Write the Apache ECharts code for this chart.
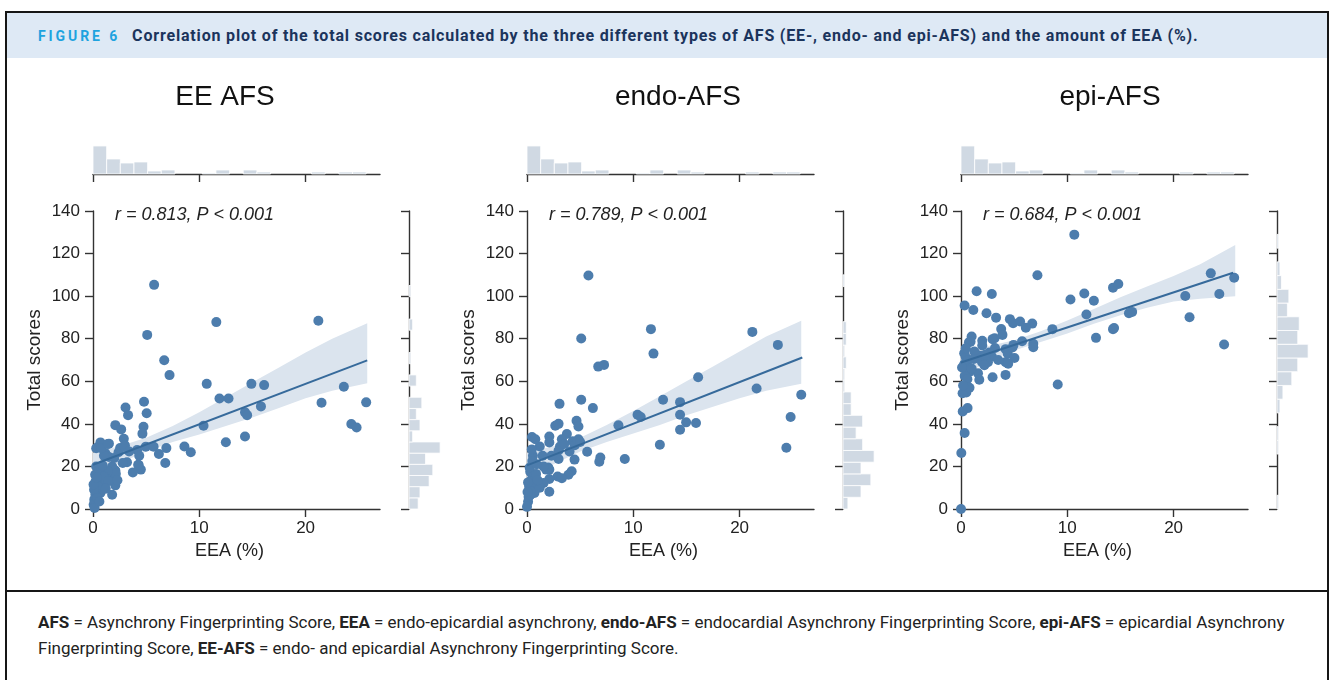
<!DOCTYPE html>
<html>
<head>
<meta charset="utf-8">
<script src="https://cdn.jsdelivr.net/npm/echarts@6/dist/echarts.min.js"></script>
<style>
  html, body { margin: 0; padding: 0; background: #fff; }
  body { width: 1332px; height: 680px; position: relative; overflow: hidden; }
  .frame { position: absolute; left: 5px; top: 11px; width: 1320px; height: 700px; border: 2px solid #161616; }
  .band { position: absolute; left: 7px; top: 13px; width: 1320px; height: 45px; background: #dee9f5; }
  .head { position: absolute; left: 38px; top: 26px; white-space: nowrap; font-family: Roboto, sans-serif; font-weight: 700; }
  .head .fig { color: #1ea3df; font-size: 14px; letter-spacing: 2.9px; margin-right: 12px; }
  .head .cap { color: #1b345c; font-size: 16px; letter-spacing: 0.82px; }
  .sep { position: absolute; left: 7px; top: 590px; width: 1320px; height: 2px; background: #161616; }
  .foot { position: absolute; left: 38px; top: 609px; font-family: Roboto, sans-serif; font-size: 17px; line-height: 26px; color: #222; white-space: nowrap; }
  .foot b { font-weight: 700; }
  #chart { position: absolute; left: 0; top: 0; width: 1332px; height: 680px; }
</style>
</head>
<body>
<div class="band"></div>
<div class="frame"></div>
<div class="head"><span class="fig">FIGURE 6</span><span class="cap">Correlation plot of the total scores calculated by the three different types of AFS (EE-, endo- and epi-AFS) and the amount of EEA (%).</span></div>
<div class="sep"></div>
<div class="foot"><b>AFS</b> = Asynchrony Fingerprinting Score, <b>EEA</b> = endo-epicardial asynchrony, <b>endo-AFS</b> = endocardial Asynchrony Fingerprinting Score, <b>epi-AFS</b> = epicardial Asynchrony<br>Fingerprinting Score, <b>EE-AFS</b> = endo- and epicardial Asynchrony Fingerprinting Score.</div>
<div id="chart"></div>
<script>
// panel titles and stats
const panelTitles = ['EE AFS', 'endo-AFS', 'epi-AFS']
const statLabels = ['r = 0.813, P < 0.001', 'r = 0.789, P < 0.001', 'r = 0.684, P < 0.001']

// scatter points [EEA %, total score]
const eePoints = [[5.75,105.3],[5.1,81.8],[11.6,87.8],[21.2,88.4],[6.7,69.9],[7.2,62.9],[10.7,58.8],[14.9,58.8],[16.1,58.2],[23.6,57.4],[11.9,51.9],[12.75,51.9],[21.5,49.9],[25.7,50.1],[4.8,50.4],[5.05,45],[3.06,47.7],[3.3,44.1],[15.8,48.2],[14.3,45.4],[14.5,44.1],[10.4,39.1],[24.3,39.9],[24.8,38.3],[14.3,34.1],[12.5,31.4],[4.75,38.6],[4.65,35.4],[2.1,39.4],[2.65,37.4],[2.9,33],[3.0,29.9],[4.97,29.3],[5.7,29.3],[6.9,28.6],[8.6,29.4],[9.2,26.7],[6.2,25.8],[6.8,21.6],[4.15,27.7],[4.35,25],[4.25,20.8],[4.5,18.5],[3.75,17.2],[3.2,22],[2.4,26.7],[1.5,30.7],[0.7,31.3],[0.47,29.1],[1.15,26.3],[1.5,24.4],[1.8,20],[2.1,18.1],[1.9,15.3],[2.15,16.6],[2.1,11.1],[1.8,6.7],[1.4,17.7],[1.25,14.1],[0.85,12.2],[0.7,7.5],[0.44,9.9],[0.22,6.7],[0.12,4.4],[0.06,2],[0.2,16.1],[0.3,20],[0.6,18.5],[0.25,13],[0.47,10.6],[0.1,9.1],[0.4,5.2],[1,15.3],[1.45,13],[2.55,28.6],[1.03,25],[2.97,29.3],[2.8,21.6],[4.3,20.7],[0.3,28.5],[0.78,28.5],[1.4,30.5],[0.15,0.5],[0.05,11.5],[0.35,14.8],[0.9,20.5],[2.0,24],[3.4,27],[0.6,3.5],[1.2,9.5],[2.3,13.5]]
const endoPoints = [[5.78,109.7],[11.66,84.5],[21.2,83.2],[23.6,77.1],[5.1,80.1],[11.9,73],[6.7,66.9],[7.25,67.7],[16.1,61.9],[21.6,56.6],[25.8,53.7],[5.1,51.3],[6.2,47.4],[3.06,49.4],[12.8,51.3],[14.4,50.2],[24.8,43.2],[14.4,44.3],[14.97,40.7],[15.9,40.4],[14.4,37.2],[10.4,44.3],[10.7,43.2],[8.6,39.3],[12.5,30.2],[24.4,28.8],[9.2,23.5],[6.9,24.2],[6.8,22.2],[5.66,26.9],[4.66,41.5],[4.84,38.8],[3.75,35.2],[4.84,32.8],[4.3,31.8],[4.47,23.2],[4.2,17.7],[3.9,16.1],[2.66,39.1],[2.97,40],[3.28,32.8],[3.1,29.4],[2.97,27.5],[2.97,23.5],[2.88,15.3],[3.28,14.5],[2.1,34.1],[2.1,31.3],[2.3,25],[2.0,19.5],[1.8,18.5],[2.1,18.5],[2.1,14.1],[2.1,8.1],[1.56,20],[1.47,25],[1.2,29.4],[0.47,33.8],[0.78,32.8],[0.56,25],[0.5,22.5],[1.03,12.2],[1.56,12.2],[0.7,7.5],[0.53,15],[0.4,13.5],[0.2,10.4],[0.15,5.7],[0.1,3.4],[0.0,1],[0.3,17.5],[0.6,11],[0.35,8.5],[0.85,16.5],[0.25,19.5],[1.2,10],[0.1,12.5],[0.45,28],[0.9,21],[4.5,30],[5.0,31.5],[3.5,30.5],[4.0,27],[1.0,13.5],[0.3,6.5],[0.05,8]]
const epiPoints = [[10.66,128.9],[7.19,109.8],[23.5,110.7],[25.7,108.6],[14.3,104],[14.8,105.7],[1.47,102.3],[2.9,101],[11.6,101.2],[10.3,98.4],[12.5,97.8],[21.1,100.1],[24.3,101],[0.34,95.6],[1.16,93.5],[2.4,92],[3.3,89.9],[11.8,91.4],[15.8,92],[16.1,92.6],[21.5,90.1],[4.6,89.2],[4.9,87.3],[5.56,88.1],[6.7,87.1],[6.1,85.2],[8.6,84.5],[3.78,84.6],[3.9,81.8],[14.3,84.5],[14.4,85],[12.7,80.4],[24.75,77.3],[1.0,81],[0.75,78.3],[0.9,78.6],[2.0,79],[2.0,76.8],[3.16,80.2],[2.97,79.8],[3.2,75.6],[2.66,73.5],[2.9,71.6],[4.2,75.1],[4.4,72.9],[4.94,77.1],[4.84,75.9],[5.75,78.8],[6.8,77.6],[6.8,76],[5.03,70.9],[4.2,69],[4.44,68.2],[2.53,69],[1.97,69.1],[1.8,72],[1.4,72.8],[1.25,74],[1.6,63.8],[1.72,60.7],[2.97,61.9],[4.19,63],[9.1,58.5],[0.3,73.2],[0.45,71.3],[0.7,70],[0.3,68],[0.55,65.8],[0.8,64.5],[0.35,62.5],[0.6,61],[0.5,54.7],[0.15,54.4],[0.8,57],[0.62,47.4],[0.16,45.8],[0.34,35.7],[0.03,26.3],[0,0],[0.1,66.5],[1.0,66],[2.3,72.5],[3.5,70],[1.2,70.5],[0.2,58],[0.45,75.5],[2.2,67.5]]

// regression line end points
const eeLine = [[0, 20.8], [25.8, 69.8]]
const endoLine = [[0, 20.5], [25.9, 71.2]]
const epiLine = [[0, 68.8], [25.6, 111]]

// confidence band
const bandX = [0, 2.5, 5, 7.5, 10, 12.5, 15, 17.5, 20, 22.5, 25.8]
const eeUpper = [26.5, 29.5, 33.5, 39, 45.5, 52.5, 59.5, 66.5, 73.5, 80, 87.3]
const eeLower = [15, 21.5, 27, 31.5, 35, 39, 43, 47.5, 52, 55.5, 59.1]
const endoUpper = [26.5, 29.5, 33.5, 39.5, 46, 53, 60, 67, 74, 81, 88.4]
const endoLower = [14.5, 21, 27, 31.5, 35.5, 39.5, 44, 48, 52, 55.5, 58.8]
const epiUpper = [75, 76.5, 79.3, 83.5, 88.5, 94, 99.5, 104.5, 109.5, 115, 124]
const epiLower = [62.5, 69, 74.5, 78.5, 82.5, 87, 91, 94.5, 97.5, 98.8, 100]

// marginal histograms
const eeaBinWidth = 1.285
const eeaCounts = [28, 15, 11, 12, 3, 4, 0, 0, 1, 4, 0, 4, 2, 0, 0, 0, 2, 0, 2, 2]
const scoreBinWidths = [5.25, 5.5, 6.45]
const eeAfsCounts = [5, 6, 11, 13, 9, 17, 2, 6, 4, 7, 0, 4, 0, 1, 0, 0, 2, 0, 0, 1]
const endoAfsCounts = [3, 11, 17, 11, 19, 12, 8, 12, 5, 5, 1, 1, 2, 1, 2, 2, 0, 0, 0, 1]
const epiAfsCounts = [1, 0, 0, 0, 1, 1, 0, 2, 4, 10, 14, 21, 14, 15, 7, 8, 3, 2, 0, 1]

const xTicks = [0, 10, 20]
const yTicks = [0, 20, 40, 60, 80, 100, 120, 140]

const panels = [
  { points: eePoints, line: eeLine, upper: eeUpper, lower: eeLower, counts: eeAfsCounts },
  { points: endoPoints, line: endoLine, upper: endoUpper, lower: endoLower, counts: endoAfsCounts },
  { points: epiPoints, line: epiLine, upper: epiUpper, lower: epiLower, counts: epiAfsCounts },
]
const offsets = [0, 434, 868]
const titleCenters = [225, 678, 1110]

const FONT = "'Liberation Sans', Arial, sans-serif"
const axisColor = '#333'
const dotColor = '#4d7dad'
const lineColor = '#366a9b'
const histColor = '#d0d9e3'

const grid = []
const xAxis = []
const yAxis = []
const series = []
const graphic = []

const axisLine = { show: true, lineStyle: { color: axisColor, width: 1.4 } }
const axisTickOut = (vals) => ({ show: true, length: 8, customValues: vals, lineStyle: { color: axisColor, width: 1.4 } })

panels.forEach((p, i) => {
  const dx = offsets[i]
  const g = i * 3
  grid.push({ left: 93 + dx, top: 211, width: 287, height: 298, outerBoundsMode: 'none' })
  grid.push({ left: 93 + dx, top: 144, width: 287, height: 30, outerBoundsMode: 'none' })
  grid.push({ left: 409 + dx, top: 211, width: 33, height: 298, outerBoundsMode: 'none' })

  // main axes
  xAxis.push({
    gridIndex: g, type: 'value', min: 0, max: 27,
    axisLine, axisTick: axisTickOut(xTicks), splitLine: { show: false },
    axisLabel: { customValues: xTicks, fontSize: 17, color: '#222', fontFamily: FONT, margin: 11 },
  })
  yAxis.push({
    gridIndex: g, type: 'value', min: 0, max: 140,
    axisLine, axisTick: axisTickOut(yTicks), splitLine: { show: false },
    axisLabel: { customValues: yTicks, fontSize: 17, color: '#222', fontFamily: FONT, margin: 13 },
  })
  // top histogram axes
  xAxis.push({
    gridIndex: g + 1, type: 'value', min: 0, max: 27,
    axisLine, axisTick: axisTickOut(xTicks), axisLabel: { show: false }, splitLine: { show: false },
  })
  yAxis.push({
    gridIndex: g + 1, type: 'value', min: 0, max: Math.max(...eeaCounts) * 1.07, show: false,
  })
  // right histogram axes
  xAxis.push({
    gridIndex: g + 2, type: 'value', min: 0, max: Math.max(...p.counts) * 1.06, show: false,
  })
  yAxis.push({
    gridIndex: g + 2, type: 'value', min: 0, max: 140, position: 'left',
    axisLine, axisTick: axisTickOut(yTicks), axisLabel: { show: false }, splitLine: { show: false },
  })

  // confidence band
  const bandData = bandX.map((x, k) => [x, p.lower[k], p.upper[k]])
  series.push({
    type: 'custom', xAxisIndex: g, yAxisIndex: g, z: 1, silent: true,
    data: bandData,
    renderItem: (params, api) => {
      if (params.dataIndex !== 0) return
      const top = bandData.map(d => api.coord([d[0], d[2]]))
      const bottom = bandData.map(d => api.coord([d[0], d[1]])).reverse()
      return { type: 'polygon', shape: { points: top.concat(bottom) }, style: { fill: '#dbe4ee' } }
    },
  })
  // scatter
  series.push({
    type: 'scatter', xAxisIndex: g, yAxisIndex: g, z: 2,
    symbolSize: 10, data: p.points,
    itemStyle: { color: dotColor, opacity: 1 },
  })
  // regression line
  series.push({
    type: 'line', xAxisIndex: g, yAxisIndex: g, z: 3,
    data: p.line, symbol: 'none', lineStyle: { color: lineColor, width: 2 },
  })
  // top histogram
  series.push({
    type: 'custom', xAxisIndex: g + 1, yAxisIndex: g + 1, silent: true,
    data: eeaCounts.map((c, k) => [k * eeaBinWidth, (k + 1) * eeaBinWidth, c]),
    renderItem: (params, api) => {
      const c = api.value(2)
      if (!c) return
      const p0 = api.coord([api.value(0), 0])
      const p1 = api.coord([api.value(1), c])
      return { type: 'rect', shape: { x: p0[0], y: p1[1], width: p1[0] - p0[0], height: p0[1] - p1[1] },
        style: { fill: histColor, stroke: '#fff', lineWidth: 0.8 } }
    },
  })
  // right histogram
  const bw = scoreBinWidths[i]
  series.push({
    type: 'custom', xAxisIndex: g + 2, yAxisIndex: g + 2, silent: true,
    data: p.counts.map((c, k) => [c, k * bw, (k + 1) * bw]),
    renderItem: (params, api) => {
      const c = api.value(0)
      if (!c) return
      const p0 = api.coord([0, api.value(1)])
      const p1 = api.coord([c, api.value(2)])
      return { type: 'rect', shape: { x: p0[0], y: p1[1], width: p1[0] - p0[0], height: p0[1] - p1[1] },
        style: { fill: histColor, stroke: '#fff', lineWidth: 0.8 } }
    },
  })

  // texts
  graphic.push({ type: 'text', x: titleCenters[i], y: 97, style: { text: panelTitles[i], font: '28px ' + FONT, fill: '#111', textAlign: 'center', textVerticalAlign: 'middle' } })
  graphic.push({ type: 'text', x: 115 + dx, y: 215, style: { text: statLabels[i], font: 'italic 18px ' + FONT, fill: '#222', textAlign: 'left', textVerticalAlign: 'middle' } })
  graphic.push({ type: 'text', x: 229.5 + dx, y: 551, style: { text: 'EEA (%)', font: '18px ' + FONT, fill: '#222', textAlign: 'center', textVerticalAlign: 'middle' } })
  graphic.push({ type: 'text', x: 35 + dx, y: 360, rotation: Math.PI / 2, style: { text: 'Total scores', font: '19px ' + FONT, fill: '#222', textAlign: 'center', textVerticalAlign: 'middle' } })
})

const chart = echarts.init(document.getElementById('chart'))
chart.setOption({
  animation: false,
  backgroundColor: 'transparent',
  grid, xAxis, yAxis, series, graphic,
})
</script>
</body>
</html>
